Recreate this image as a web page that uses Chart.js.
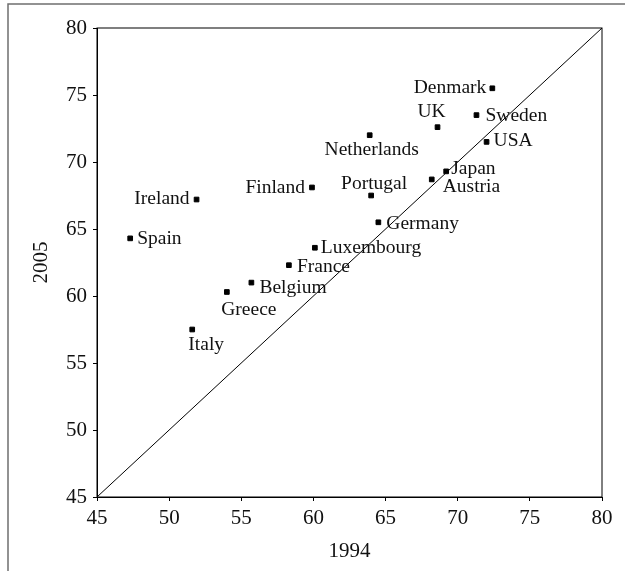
<!DOCTYPE html>
<html>
<head>
<meta charset="utf-8">
<script src="https://cdn.jsdelivr.net/npm/chart.js@4/dist/chart.umd.min.js"></script>
<style>
html,body{margin:0;padding:0;background:#fff;}
canvas{display:block;}
</style>
</head>
<body>
<canvas id="c" width="625" height="571"></canvas>
<script>
const countries=["Denmark","UK","Sweden","USA","Netherlands","Japan","Austria","Finland","Portugal","Ireland","Spain","Germany","Luxembourg","France","Belgium","Greece","Italy"];
const y1994=[72.4,68.6,71.3,72.0,63.9,69.2,68.2,59.9,64.0,51.9,47.3,64.5,60.1,58.3,55.7,54.0,51.6];
const y2005=[75.5,72.6,73.5,71.5,72.0,69.3,68.7,68.1,67.5,67.2,64.3,65.5,63.6,62.3,61.0,60.3,57.5];
const diagonal=[45,80];
const xTicks=[45,50,55,60,65,70,75,80];

// where each name sits next to its marker: text align, dx, dy (px)
const labelPlace=[
["right",-6,0],["center",-6,-15],["left",9,1],["left",7,-1],["center",2,15],
["left",5,-3],["left",11,7],["right",-7,0],["center",3,-12],["right",-7,-1],
["left",7,0],["left",8,2],["left",6,0],["left",8,2],["left",8,5],
["center",22,18],["center",14,15]
];

const serif="'Liberation Serif','Times New Roman',serif";

const labelPlugin={
id:"labels",
beforeDraw(chart){
const ctx=chart.ctx;
ctx.save();
ctx.strokeStyle="#6f6f6f";
ctx.lineWidth=1.5;
ctx.beginPath();
ctx.moveTo(8,571);
ctx.lineTo(8,4);
ctx.lineTo(625,4);
ctx.stroke();
ctx.restore();
},
afterDatasetsDraw(chart){
const ctx=chart.ctx;
const a=chart.chartArea;
ctx.save();
ctx.strokeStyle="#000";
ctx.lineWidth=1;
ctx.strokeRect(a.left,a.top,a.right-a.left,a.bottom-a.top);
const meta=chart.getDatasetMeta(1);
ctx.fillStyle="#111";
ctx.font="19.5px "+serif;
ctx.textBaseline="middle";
meta.data.forEach((pt,i)=>{
const p=labelPlace[i];
ctx.textAlign=p[0];
ctx.fillText(countries[i],pt.x+p[1],pt.y+p[2]);
});
ctx.restore();
}
};

const axisFont={family:serif,size:21};

new Chart(document.getElementById("c"),{
type:"scatter",
data:{
datasets:[
{
data:diagonal.map(v=>({x:v,y:v})),
showLine:true,
borderColor:"#000",
borderWidth:1,
pointRadius:0
},
{
data:y1994.map((v,i)=>({x:v,y:y2005[i]})),
pointStyle:"rect",
pointRadius:3.3,
backgroundColor:"#000",
borderColor:"#000",
borderWidth:1
}
]
},
options:{
responsive:false,
animation:false,
layout:{padding:{top:28,right:23,left:0,bottom:0}},
plugins:{legend:{display:false},tooltip:{enabled:false}},
scales:{
x:{
type:"linear",
min:45,max:80,
afterBuildTicks:s=>{s.ticks=xTicks.map(v=>({value:v}));},
afterFit:s=>{s.height=74;},
grid:{drawOnChartArea:false,tickLength:4,color:"#000"},
border:{color:"#000"},
ticks:{color:"#111",font:axisFont,padding:5,maxRotation:0},
title:{display:true,text:"1994",color:"#111",font:axisFont,padding:{top:0,bottom:7}}
},
y:{
type:"linear",
min:45,max:80,
ticks:{stepSize:5,color:"#111",font:axisFont,padding:6},
afterFit:s=>{s.width=97;},
grid:{drawOnChartArea:false,tickLength:4,color:"#000"},
border:{color:"#000"},
title:{display:true,text:"2005",color:"#111",font:axisFont,padding:{top:29,bottom:0}}
}
}
},
plugins:[labelPlugin]
});
</script>
</body>
</html>
